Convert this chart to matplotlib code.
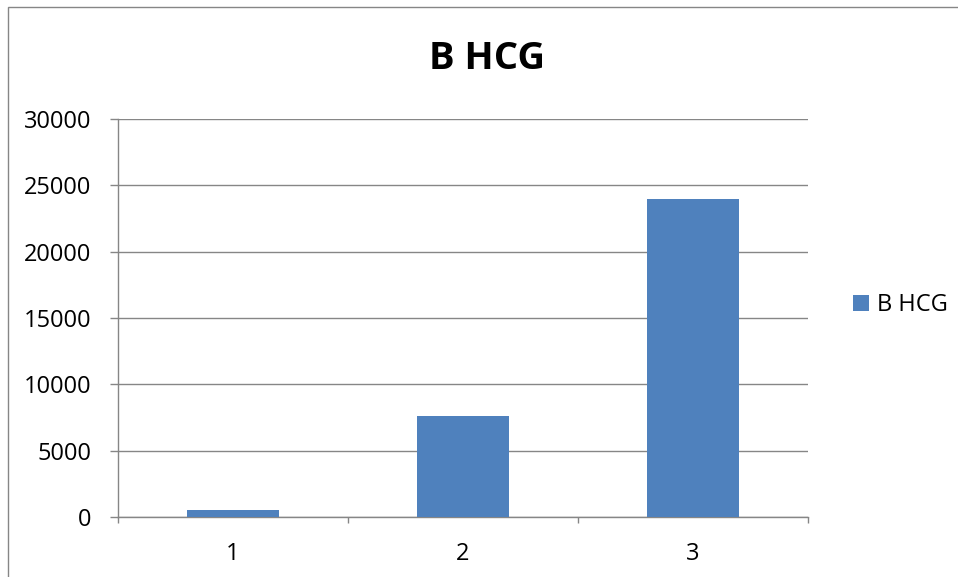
"""Excel-style column chart: B HCG."""

import matplotlib
matplotlib.use('Agg')
import matplotlib.pyplot as plt
from matplotlib.patches import Rectangle

categories = ['1', '2', '3']
bhcg_values = [550, 7600, 24000]
series_name = 'B HCG'
y_ticks = [0, 5000, 10000, 15000, 20000, 25000, 30000]

bar_color = '#4F81BD'
line_color = '#868686'

plt.rcParams['font.family'] = ['Open Sans', 'DejaVu Sans']

fig = plt.figure(figsize=(9.58, 5.77), dpi=100)

# outer chart border (only top/left visible in the reference)
fig.patches.append(Rectangle((8 / 958, -0.1), 1.2, 1 - 7 / 577 + 0.1,
                             transform=fig.transFigure, fill=False,
                             edgecolor=line_color, linewidth=1.0))

ax = fig.add_axes([118 / 958, 1 - 517 / 577, 690 / 958, 398 / 577])

x = list(range(len(categories)))
ax.bar(x, bhcg_values, width=0.4, color=bar_color, label=series_name, zorder=3)

ax.set_xlim(-0.5, len(categories) - 0.5)
ax.set_ylim(0, 30000)
ax.set_yticks(y_ticks)
ax.set_xticks(x)
ax.set_xticklabels(categories)
ax.set_xticks([i - 0.5 for i in range(len(categories) + 1)], minor=True)

ax.grid(axis='y', color=line_color, linewidth=1.0, zorder=0)
ax.set_axisbelow(True)

for side in ('top', 'right'):
    ax.spines[side].set_visible(False)
for side in ('left', 'bottom'):
    ax.spines[side].set_color(line_color)
    ax.spines[side].set_linewidth(1.0)

ax.tick_params(axis='y', length=6, width=1.0, color=line_color, pad=13,
               labelsize=17, labelcolor='black')
ax.tick_params(axis='x', which='major', length=0, pad=18,
               labelsize=17, labelcolor='black')
ax.tick_params(axis='x', which='minor', length=4.5, width=1.0, color=line_color)

fig.text(487 / 958, 1 - 69 / 577, series_name, ha='center', va='baseline',
         fontsize=27.5, fontweight='bold')

ax.legend(loc='center left', bbox_to_anchor=(832 / 958, 1 - 305 / 577),
          bbox_transform=fig.transFigure, frameon=False, fontsize=17,
          handlelength=0.65, handleheight=0.65, handletextpad=0.35)

fig.savefig('out.png', dpi=100, facecolor='white')
